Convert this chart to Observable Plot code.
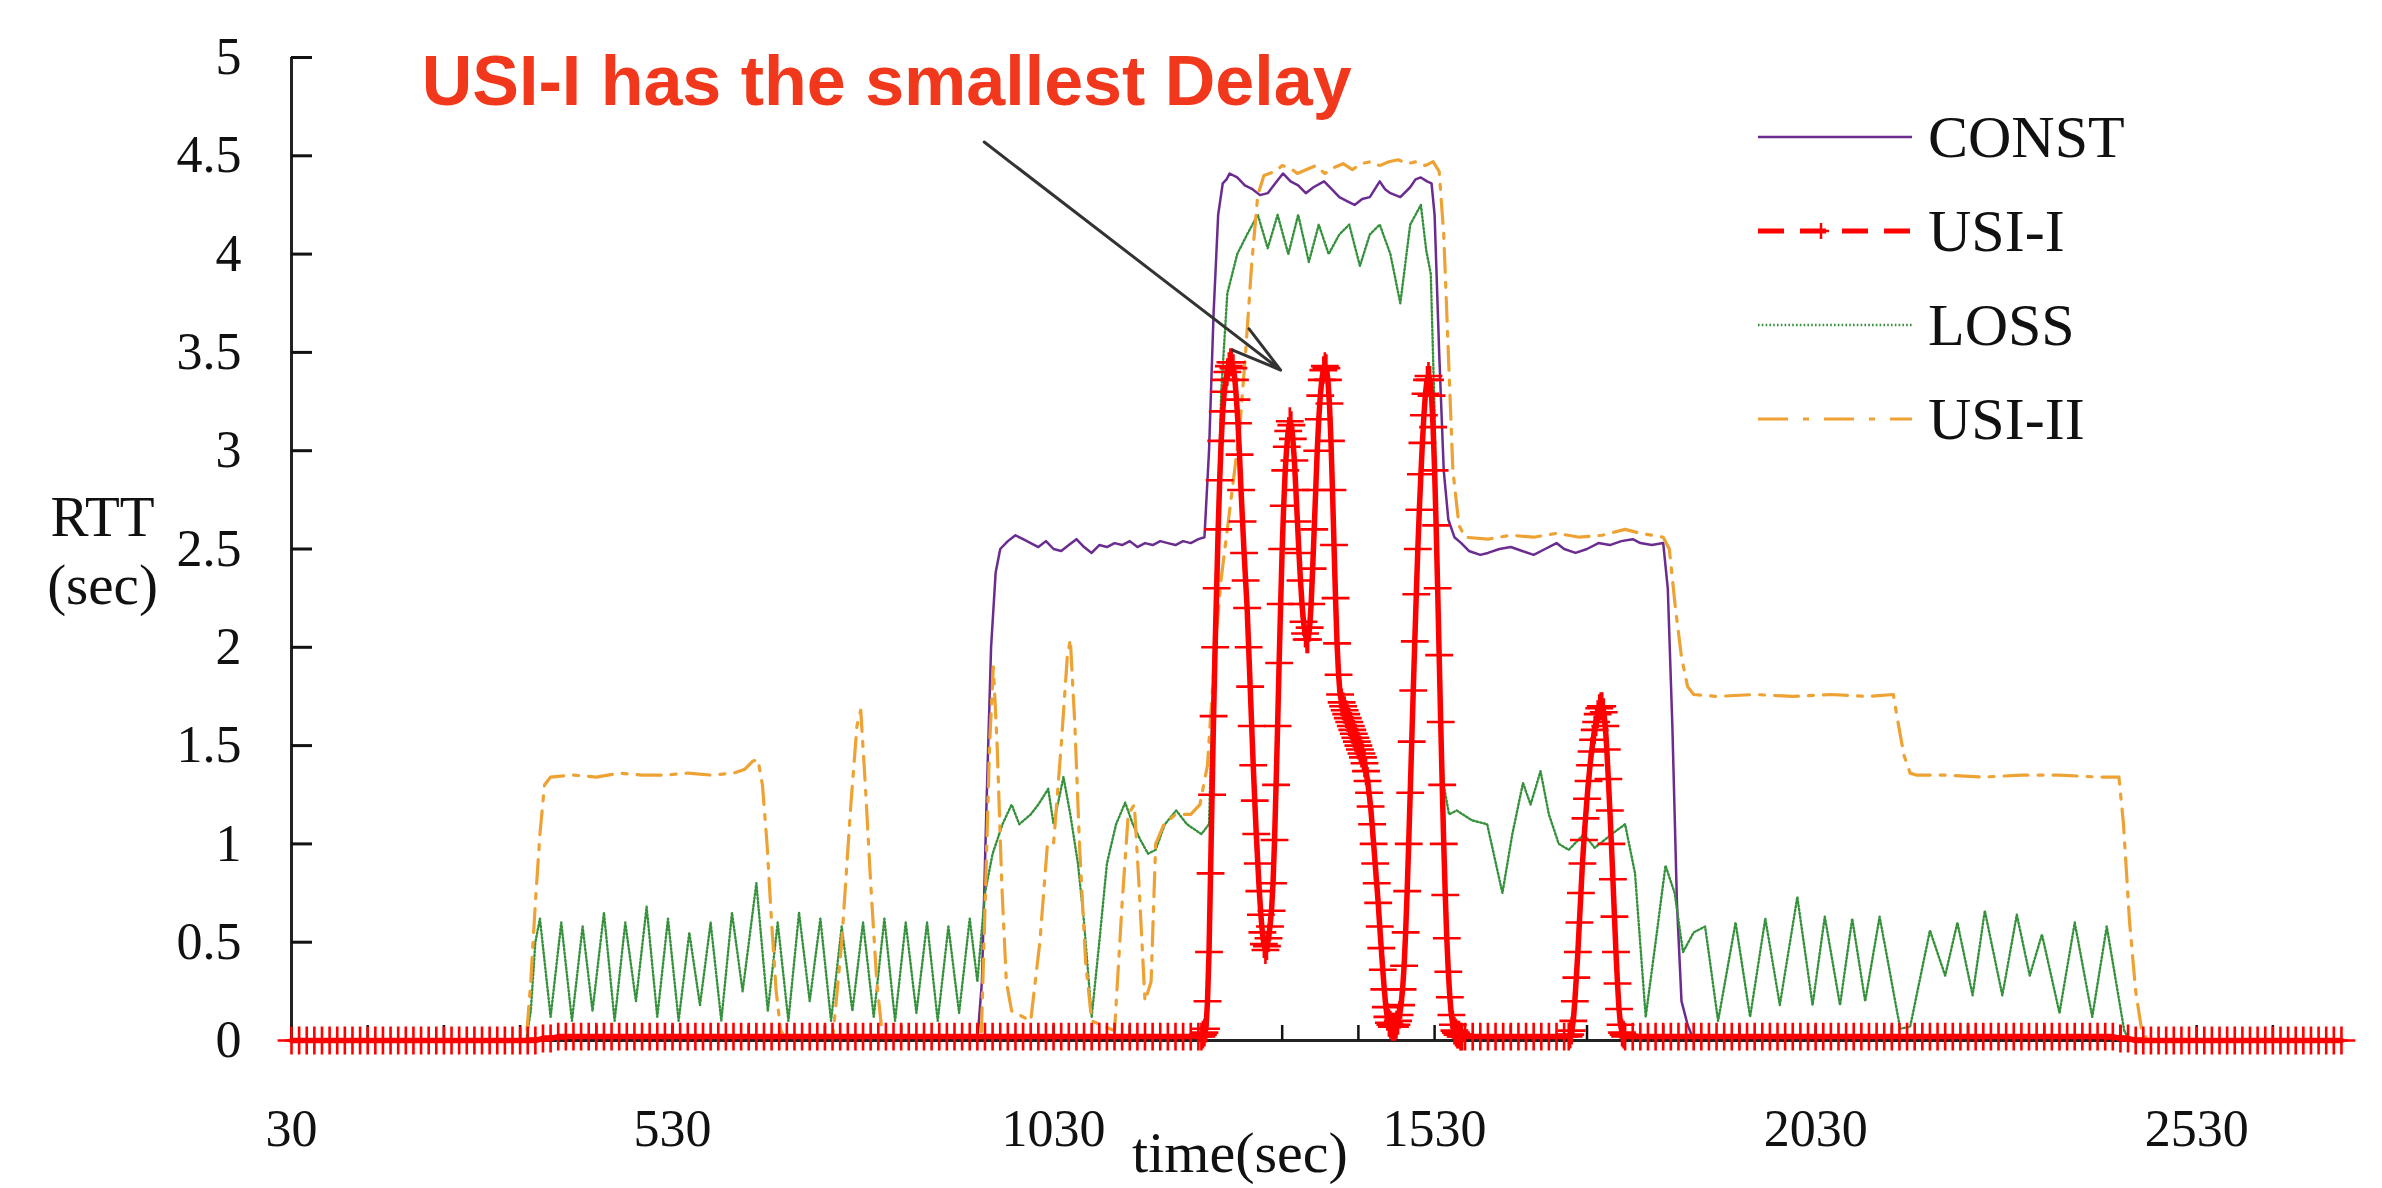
<!DOCTYPE html>
<html>
<head>
<meta charset="utf-8">
<script src="https://cdn.jsdelivr.net/npm/d3@7"></script>
<script src="https://cdn.jsdelivr.net/npm/@observablehq/plot@0.6"></script>
<style>
  html, body { margin: 0; padding: 0; background: #fff; }
  #wrap { position: relative; width: 2382px; height: 1188px; overflow: hidden; }
  .lg-row { position: absolute; left: 1750px; height: 64px; display: flex; align-items: center; }
  .lg-row span { font-family: "Liberation Serif", "Times New Roman", serif; font-size: 60px; color: #111; margin-left: 16px; line-height: 1; }
</style>
</head>
<body>
<div id="wrap"></div>
<script>
// ---------- data (time in sec, RTT in sec) ----------
const seriesNames = ["CONST", "USI-I", "LOSS", "USI-II"];
const seriesColors = ["#6a2c8e", "#ff0000", "#36913c", "#eea234"];

const xLabelTicks = [30, 530, 1030, 1530, 2030, 2530];
const xMinorTicks = [30,130,230,330,430,530,630,730,830,930,1030,1130,1230,1330,1430,1530,1630,1730,1830,1930,2030,2130,2230,2330,2430,2530,2630];
const yTicks = [0, 0.5, 1, 1.5, 2, 2.5, 3, 3.5, 4, 4.5, 5];

const constPts = [
[30,0],[930,0],[936,0.3],[942,1.2],[948,2.0],[954,2.38],[960,2.5],[970,2.54],[980,2.57],[990,2.55],[1000,2.53],[1010,2.51],[1020,2.54],[1030,2.5],[1040,2.49],[1050,2.52],[1060,2.55],[1070,2.51],[1080,2.48],[1090,2.52],[1100,2.51],[1110,2.53],[1120,2.52],[1130,2.54],[1140,2.51],[1150,2.53],[1160,2.52],[1170,2.54],[1180,2.53],[1190,2.52],[1200,2.54],[1210,2.53],[1220,2.55],[1228,2.56],[1234,3.0],[1240,3.7],[1246,4.2],[1252,4.36],[1257,4.38],[1261,4.41],[1271,4.39],[1281,4.35],[1291,4.33],[1301,4.30],[1311,4.31],[1321,4.36],[1331,4.41],[1341,4.37],[1351,4.35],[1361,4.31],[1371,4.34],[1385,4.37],[1395,4.33],[1405,4.29],[1415,4.27],[1425,4.25],[1435,4.28],[1445,4.29],[1458,4.37],[1465,4.33],[1472,4.31],[1485,4.29],[1498,4.34],[1505,4.38],[1512,4.39],[1520,4.37],[1526,4.36],[1530,4.2],[1536,3.5],[1542,2.9],[1548,2.65],[1556,2.56],[1565,2.53],[1575,2.49],[1590,2.47],[1600,2.48],[1615,2.5],[1630,2.51],[1645,2.49],[1660,2.47],[1675,2.5],[1690,2.53],[1700,2.5],[1715,2.48],[1730,2.5],[1745,2.53],[1760,2.52],[1775,2.54],[1790,2.55],[1800,2.53],[1815,2.52],[1830,2.53],[1836,2.3],[1842,1.6],[1848,0.7],[1854,0.2],[1862,0.08],[1868,0.02],[1875,0],[2720,0]
];

const lossPts = [
[30,0],[338,0],[344,0.15],[350,0.5],[356,0.62],[370,0.12],[384,0.6],[398,0.1],[412,0.58],[425,0.15],[440,0.65],[454,0.1],[468,0.6],[482,0.2],[496,0.68],[510,0.12],[524,0.62],[538,0.1],[552,0.55],[566,0.18],[580,0.6],[594,0.1],[608,0.65],[622,0.25],[640,0.8],[655,0.15],[668,0.6],[682,0.1],[696,0.65],[710,0.2],[724,0.62],[738,0.1],[752,0.58],[766,0.15],[780,0.6],[794,0.12],[808,0.62],[822,0.1],[836,0.6],[850,0.14],[864,0.6],[878,0.1],[892,0.58],[906,0.14],[920,0.62],[930,0.3],[940,0.75],[950,0.95],[963,1.1],[975,1.2],[985,1.1],[1000,1.15],[1010,1.2],[1023,1.28],[1030,1.1],[1043,1.34],[1052,1.15],[1062,0.9],[1070,0.6],[1080,0.12],[1090,0.5],[1100,0.9],[1112,1.1],[1124,1.21],[1134,1.1],[1144,1.02],[1154,0.95],[1164,0.97],[1176,1.1],[1191,1.17],[1205,1.1],[1224,1.05],[1234,1.1],[1242,2.2],[1250,3.3],[1258,3.8],[1271,4.0],[1284,4.1],[1298,4.2],[1311,4.03],[1324,4.2],[1338,4.0],[1351,4.2],[1365,3.96],[1378,4.15],[1391,4.0],[1405,4.1],[1418,4.15],[1432,3.94],[1445,4.1],[1458,4.15],[1472,4.0],[1485,3.75],[1498,4.15],[1512,4.25],[1519,4.02],[1525,3.9],[1530,3.2],[1533,2.4],[1537,1.7],[1542,1.3],[1549,1.15],[1559,1.17],[1579,1.12],[1599,1.1],[1619,0.75],[1632,1.05],[1646,1.31],[1656,1.2],[1669,1.37],[1680,1.15],[1693,1.0],[1706,0.97],[1726,1.05],[1740,0.98],[1753,1.02],[1766,1.06],[1780,1.1],[1793,0.85],[1807,0.12],[1820,0.5],[1833,0.89],[1845,0.75],[1856,0.45],[1870,0.55],[1885,0.58],[1902,0.1],[1925,0.6],[1944,0.12],[1964,0.62],[1983,0.18],[2006,0.73],[2026,0.18],[2042,0.63],[2062,0.18],[2078,0.62],[2095,0.2],[2114,0.63],[2141,0.06],[2154,0.07],[2180,0.56],[2200,0.33],[2216,0.6],[2236,0.23],[2252,0.66],[2275,0.23],[2294,0.64],[2311,0.33],[2327,0.54],[2350,0.14],[2370,0.6],[2393,0.12],[2412,0.58],[2435,0.05],[2442,0],[2720,0]
];

const usi2Pts = [
[30,0],[338,0],[344,0.3],[350,0.7],[356,1.05],[362,1.3],[370,1.34],[400,1.35],[430,1.34],[460,1.36],[490,1.35],[520,1.35],[550,1.36],[580,1.35],[610,1.36],[625,1.38],[635,1.42],[642,1.43],[648,1.3],[654,1.0],[660,0.6],[666,0.25],[672,0.05],[680,0],[740,0],[752,0.5],[764,1.2],[772,1.6],[777,1.68],[783,1.3],[790,0.8],[798,0.3],[806,0],[935,0],[941,0.8],[946,1.5],[951,1.9],[956,1.5],[962,0.8],[968,0.3],[975,0.15],[1000,0.1],[1012,0.5],[1022,1.0],[1030,1.0],[1040,1.5],[1048,1.95],[1052,2.04],[1058,1.6],[1064,1.0],[1072,0.4],[1080,0.1],[1110,0.05],[1120,0.7],[1128,1.15],[1136,1.2],[1142,0.8],[1150,0.2],[1158,0.3],[1164,1.0],[1175,1.1],[1190,1.15],[1210,1.15],[1222,1.2],[1232,1.4],[1242,2.0],[1250,2.35],[1258,2.6],[1266,2.85],[1274,3.1],[1282,3.5],[1290,3.95],[1298,4.3],[1306,4.4],[1320,4.42],[1330,4.45],[1340,4.44],[1350,4.41],[1362,4.43],[1374,4.45],[1386,4.41],[1398,4.44],[1410,4.46],[1422,4.43],[1434,4.46],[1446,4.47],[1458,4.45],[1470,4.47],[1482,4.48],[1494,4.46],[1506,4.47],[1518,4.45],[1528,4.47],[1536,4.42],[1542,4.1],[1548,3.5],[1554,2.9],[1562,2.62],[1570,2.56],[1600,2.55],[1630,2.57],[1660,2.56],[1690,2.58],[1720,2.56],[1750,2.57],[1780,2.6],[1800,2.58],[1830,2.56],[1838,2.5],[1846,2.2],[1854,1.95],[1862,1.8],[1870,1.76],[1900,1.75],[1950,1.76],[2000,1.75],[2050,1.76],[2100,1.75],[2132,1.76],[2138,1.62],[2146,1.45],[2154,1.36],[2162,1.35],[2200,1.35],[2250,1.34],[2300,1.35],[2350,1.35],[2400,1.34],[2428,1.34],[2434,1.1],[2442,0.6],[2450,0.25],[2458,0.05],[2466,0],[2720,0]
];

// USI-I: flat stretches sampled every 10 s, spikes sampled every 2 s
const usi1FlatA = {start: 30, step: 10, values: [0,0,0,0,0,0,0,0,0,0,0,0,0,0,0,0,0,0,0,0,0,0,0,0,0,0,0,0,0,0,0,0,0,0.01,0.01,0.02,0.02,0.02,0.02,0.02,0.02,0.02,0.02,0.02,0.02,0.02,0.02,0.02,0.02,0.02,0.02,0.02,0.02,0.02,0.02,0.02,0.02,0.02,0.02,0.02,0.02,0.02,0.02,0.02,0.02,0.02,0.02,0.02,0.02,0.02,0.02,0.02,0.02,0.02,0.02,0.02,0.02,0.02,0.02,0.02,0.02,0.02,0.02,0.02,0.02,0.02,0.02,0.02,0.02,0.02,0.02,0.02,0.02,0.02,0.02,0.02,0.02,0.02,0.02,0.02,0.02,0.02,0.02,0.02,0.02,0.02,0.02,0.02,0.02,0.02,0.02,0.02,0.02,0.02,0.02,0.02,0.02,0.02,0.02,0.02]};
const usi1SpikeA = {start: 1224, step: 2, values: [0.02,0.03,0.04,0.06,0.2,0.45,0.85,1.25,1.65,2.0,2.3,2.6,2.85,3.05,3.2,3.3,3.36,3.4,3.43,3.45,3.45,3.42,3.36,3.26,3.14,2.98,2.8,2.64,2.48,2.34,2.2,2.0,1.8,1.6,1.4,1.22,1.05,0.9,0.76,0.64,0.55,0.49,0.46,0.48,0.52,0.58,0.66,0.8,1.02,1.3,1.6,1.92,2.22,2.5,2.72,2.9,3.02,3.1,3.15,3.13,3.06,2.95,2.8,2.64,2.48,2.34,2.22,2.13,2.07,2.04,2.04,2.1,2.22,2.4,2.6,2.8,3.0,3.16,3.28,3.36,3.41,3.43,3.42,3.36,3.24,3.05,2.8,2.52,2.25,2.02,1.86,1.76,1.72,1.7,1.68,1.66,1.64,1.62,1.6,1.58,1.56,1.54,1.52,1.5,1.48,1.46,1.44,1.41,1.37,1.32,1.26,1.19,1.1,1.0,0.9,0.8,0.7,0.58,0.47,0.36,0.26,0.17,0.12,0.09,0.08,0.07,0.07,0.07,0.08,0.1,0.13,0.18,0.26,0.38,0.55,0.76,1.0,1.26,1.52,1.78,2.03,2.27,2.5,2.7,2.88,3.04,3.18,3.29,3.36,3.38,3.36,3.28,3.12,2.9,2.62,2.3,1.96,1.62,1.3,1.0,0.74,0.52,0.35,0.22,0.13,0.08,0.05,0.04,0.03,0.03,0.02,0.02]};
const usi1FlatB = {start: 1570, step: 10, values: [0.02,0.02,0.02,0.02,0.02,0.02,0.02,0.02,0.02,0.02,0.02,0.02,0.02,0.02]};
const usi1SpikeB = {start: 1706, step: 2, values: [0.02,0.03,0.05,0.1,0.2,0.32,0.45,0.6,0.75,0.9,1.02,1.13,1.23,1.32,1.4,1.47,1.53,1.58,1.62,1.66,1.69,1.7,1.7,1.67,1.6,1.48,1.33,1.17,1.0,0.82,0.63,0.45,0.29,0.16,0.08,0.04,0.03,0.02]};
const usi1FlatC = {start: 1790, step: 10, values: [0.02,0.02,0.02,0.02,0.02,0.02,0.02,0.02,0.02,0.02,0.02,0.02,0.02,0.02,0.02,0.02,0.02,0.02,0.02,0.02,0.02,0.02,0.02,0.02,0.02,0.02,0.02,0.02,0.02,0.02,0.02,0.02,0.02,0.02,0.02,0.02,0.02,0.02,0.02,0.02,0.02,0.02,0.02,0.02,0.02,0.02,0.02,0.02,0.02,0.02,0.02,0.02,0.02,0.02,0.02,0.02,0.02,0.02,0.02,0.02,0.02,0.02,0.02,0.02,0.01,0.01,0,0,0,0,0,0,0,0,0,0,0,0,0,0,0,0,0,0,0,0,0,0,0,0,0,0,0,0]};

// annotation
const noteText = [{time: 811, rtt: 4.87, label: "USI-I has the smallest Delay"}];
const noteArrow = [{t1: 939, r1: 4.57, t2: 1328, r2: 3.41}];

// ---------- build ----------
const pts = (arr) => arr.map(([time, rtt]) => ({time, rtt}));
const runs = (...segs) => segs.flatMap(s => s.values.map((rtt, i) => ({time: s.start + s.step * i, rtt})));

const constData = pts(constPts);
const lossData = pts(lossPts);
const usi2Data = pts(usi2Pts);
const usi1Data = runs(usi1FlatA, usi1SpikeA, usi1FlatB, usi1SpikeB, usi1FlatC);

const [cConst, cUsi1, cLoss, cUsi2] = seriesColors;
const serif = "'Liberation Serif', 'Times New Roman', serif";

const chart = Plot.plot({
  width: 2382,
  height: 1188,
  marginLeft: 291,
  marginRight: 38,
  marginTop: 57,
  marginBottom: 148,
  style: {fontFamily: serif, background: "#fff", color: "#111", overflow: "visible"},
  x: {domain: [30, 2724]},
  y: {domain: [0, 5]},
  marks: [
    Plot.line(constData, {x: "time", y: "rtt", stroke: cConst, strokeWidth: 2.5}),
    Plot.line(lossData, {x: "time", y: "rtt", stroke: cLoss, strokeWidth: 2.4, strokeDasharray: "1.6,2.2"}),
    Plot.line(usi2Data, {x: "time", y: "rtt", stroke: cUsi2, strokeWidth: 3.2, strokeDasharray: "24,10,5,10"}),
    Plot.ruleX([30], {y1: 0, y2: 5, stroke: "#222", strokeWidth: 3}),
    Plot.ruleY([0], {stroke: "#222", strokeWidth: 3}),
    Plot.axisY({ticks: yTicks, tickSize: -21, tickPadding: 71, strokeWidth: 3, fontSize: 52, label: null, tickFormat: d => String(d)}),
    Plot.axisX({ticks: xMinorTicks, tickSize: -15, strokeWidth: 2.5, tickFormat: () => "", label: null}),
    Plot.axisX({ticks: xLabelTicks, tickSize: 0, tickPadding: 69, fontSize: 52, label: null, tickFormat: d => String(d)}),
    Plot.line(usi1Data, {x: "time", y: "rtt", stroke: cUsi1, strokeWidth: 5.5}),
    Plot.dot(usi1Data, {x: "time", y: "rtt", symbol: "plus", r: 9, stroke: cUsi1, strokeWidth: 2.6}),
    Plot.arrow(noteArrow, {x1: "t1", y1: "r1", x2: "t2", y2: "r2", stroke: "#333", strokeWidth: 3, headLength: 26, headAngle: 30}),
    Plot.text(noteText, {x: "time", y: "rtt", text: "label", fontFamily: "'Liberation Sans', Arial, sans-serif", fontWeight: "bold", fontSize: 70, fill: "#f1381c", textAnchor: "middle", lineAnchor: "middle"}),
    Plot.text(["RTT\n(sec)"], {frameAnchor: "left", dx: -189, dy: -1, fontSize: 57, lineHeight: 1.19, textAnchor: "middle", lineAnchor: "middle", fill: "#111"}),
    Plot.text(["time(sec)"], {frameAnchor: "bottom", dx: -78, dy: 113, fontSize: 58, textAnchor: "middle", lineAnchor: "middle", fill: "#111"})
  ]
});

const wrap = document.getElementById("wrap");
wrap.appendChild(chart);

// ---------- legend (inside the plot area, top right) ----------
const legendDash = ["", "26,16", "1.6,2.2", "30,15,6,15"];
const legendWidth = [2.5, 5, 2.4, 3.2];
seriesNames.forEach((name, i) => {
  const row = document.createElement("div");
  row.className = "lg-row";
  row.style.top = (137 + 94 * i - 32) + "px";
  const ns = "http://www.w3.org/2000/svg";
  const svg = document.createElementNS(ns, "svg");
  svg.setAttribute("width", "162");
  svg.setAttribute("height", "64");
  const ln = document.createElementNS(ns, "line");
  ln.setAttribute("x1", "8"); ln.setAttribute("x2", "162");
  ln.setAttribute("y1", "32"); ln.setAttribute("y2", "32");
  ln.setAttribute("stroke", seriesColors[i]);
  ln.setAttribute("stroke-width", legendWidth[i]);
  if (legendDash[i]) ln.setAttribute("stroke-dasharray", legendDash[i]);
  svg.appendChild(ln);
  if (name === "USI-I") {
    const p = document.createElementNS(ns, "path");
    p.setAttribute("d", "M 71 24 L 71 40 M 63 32 L 79 32");
    p.setAttribute("stroke", seriesColors[i]);
    p.setAttribute("stroke-width", "2.5");
    svg.appendChild(p);
  }
  const label = document.createElement("span");
  label.textContent = name;
  row.appendChild(svg);
  row.appendChild(label);
  wrap.appendChild(row);
});
</script>
</body>
</html>
